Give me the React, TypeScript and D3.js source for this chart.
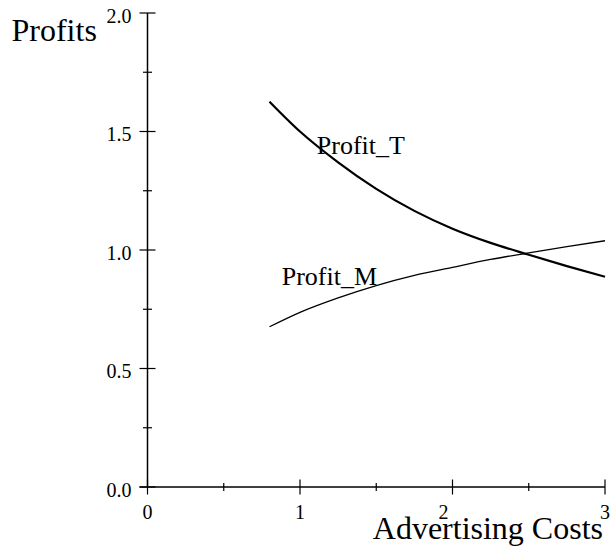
import React from "react";
import * as d3 from "d3";

const xValues = [0.8, 1.0, 1.25, 1.5, 1.75, 2.0, 2.25, 2.5, 2.75, 3.0];
const profitT = [1.626, 1.5, 1.37, 1.258, 1.165, 1.09, 1.03, 0.98, 0.932, 0.887];
const profitM = [0.676, 0.737, 0.798, 0.85, 0.893, 0.927, 0.96, 0.988, 1.014, 1.039];

const xTicks = [0, 1, 2, 3];
const xMinorTicks = [0.5, 1.5, 2.5];
const yTicks = [0, 0.5, 1.0, 1.5, 2.0];
const yMinorTicks = [0.25, 0.75, 1.25, 1.75];

const W = 610;
const H = 548;
const FONT = "'Liberation Serif', 'Times New Roman', serif";

export default function App() {
  const x = d3.scaleLinear().domain([0, 3]).range([147.5, 605]);
  const y = d3.scaleLinear().domain([0, 2]).range([487, 13]);

  const line = d3
    .line<[number, number]>()
    .x((d) => x(d[0]))
    .y((d) => y(d[1]))
    .curve(d3.curveMonotoneX);

  const tData: [number, number][] = xValues.map((v, i) => [v, profitT[i]]);
  const mData: [number, number][] = xValues.map((v, i) => [v, profitM[i]]);

  const x0 = x(0);
  const y0 = y(0);

  return (
    <div style={{ position: "absolute", left: 0, top: 0 }}>
      <svg width={W} height={H} style={{ display: "block", background: "#fff" }}>
        {/* axes */}
        <line x1={x0} y1={y(2)} x2={x0} y2={y0} stroke="#000" strokeWidth={1.5} />
        <line x1={x0 - 8} y1={y0} x2={x(3)} y2={y0} stroke="#000" strokeWidth={1.5} />

        {yTicks.map((t) => (
          <g key={"yt" + t}>
            <line x1={x0 - 8} x2={x0 + 8} y1={y(t)} y2={y(t)} stroke="#000" strokeWidth={1.2} />
            <text
              x={x0 - 16}
              y={y(t) + 9.5}
              textAnchor="end"
              fontFamily={FONT}
              fontSize={20}
              fill="#000"
            >
              {t.toFixed(1)}
            </text>
          </g>
        ))}
        {yMinorTicks.map((t) => (
          <line key={"ym" + t} x1={x0 - 4.5} x2={x0 + 4.5} y1={y(t)} y2={y(t)} stroke="#000" strokeWidth={1.2} />
        ))}

        {xTicks.map((t, i) => (
          <g key={"xt" + t}>
            <line x1={x(t)} x2={x(t)} y1={y0 - 7.5} y2={y0 + 7.5} stroke="#000" strokeWidth={1.2} />
            <text
              x={x(t) + (i === 2 ? -9 : 0)}
              y={y0 + 32}
              textAnchor="middle"
              fontFamily={FONT}
              fontSize={20}
              fill="#000"
            >
              {String(t)}
            </text>
          </g>
        ))}
        {xMinorTicks.map((t) => (
          <line key={"xm" + t} x1={x(t)} x2={x(t)} y1={y0 - 4} y2={y0 + 4} stroke="#000" strokeWidth={1.2} />
        ))}

        {/* curves */}
        <path d={line(tData) || ""} fill="none" stroke="#000" strokeWidth={2.2} />
        <path d={line(mData) || ""} fill="none" stroke="#000" strokeWidth={1.3} />

        {/* curve labels */}
        <text x={x(1.11)} y={y(1.403)} fontFamily={FONT} fontSize={26} fill="#000">
          Profit_T
        </text>
        <text x={x(0.88)} y={y(0.854)} fontFamily={FONT} fontSize={26} fill="#000">
          Profit_M
        </text>

        {/* axis titles */}
        <text x={11.5} y={41} fontFamily={FONT} fontSize={32} fill="#000">
          Profits
        </text>
        <text x={603} y={539} textAnchor="end" fontFamily={FONT} fontSize={32} fill="#000">
          Advertising Costs
        </text>
      </svg>
    </div>
  );
}
